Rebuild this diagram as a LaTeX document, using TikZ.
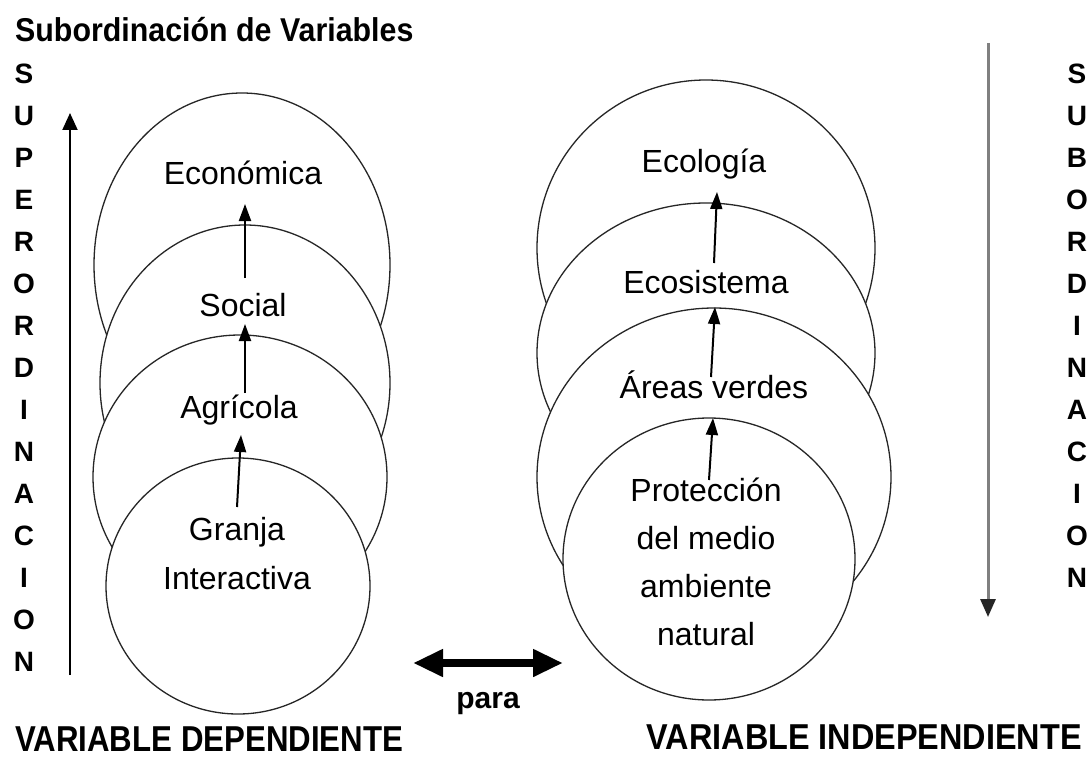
\documentclass[tikz,border=0pt]{standalone}
\usepackage{fontspec}
\setmainfont{Liberation Sans}
\usetikzlibrary{shapes.geometric,arrows.meta}
\begin{document}
\begin{tikzpicture}[x=1pt,y=-1pt,
  oval/.style={ellipse, draw=black!85, line width=1.3pt, fill=white, inner sep=0pt},
  lbl/.style={inner sep=0pt, font=\fontsize{32}{49}\selectfont, align=center, text=black},
  vlet/.style={inner sep=0pt, font=\bfseries\fontsize{28}{42}\selectfont, align=center, text=black},
  bold/.style={inner sep=0pt, font=\bfseries\fontsize{36}{36}\selectfont, text=black},
  arr/.style={line width=2pt, draw=black, -{Triangle[length=17pt,width=12pt]}},
  bigarr/.style={line width=2pt, draw=black, -{Triangle[length=17pt,width=15pt]}},
  grayarr/.style={line width=3pt, draw=black!50, -{Triangle[length=18pt,width=15pt,color=black!85]}},
  dblarr/.style={line width=8pt, draw=black, {Triangle[length=30pt,width=26pt]}-{Triangle[length=30pt,width=26pt]}}
]
\fill[white] (0,0) rectangle (1092,757);
\useasboundingbox (0,0) rectangle (1092,757);

% title
\node[bold, font=\bfseries\fontsize{33}{33}\selectfont, anchor=base west] (title) at (15,42) {\scalebox{0.92}[1]{Subordinación de Variables}};

% left stack of ellipses
\node[oval, minimum width=296pt, minimum height=344pt] (econE) at (242,265) {};
\node[oval, minimum width=290pt, minimum height=316pt] (socE) at (245,383) {};
\node[oval, minimum width=294pt, minimum height=284pt] (agriE) at (240,477) {};
\node[oval, minimum width=264pt, minimum height=256pt] (granE) at (238,586) {};

% right stack of ellipses
\node[oval, minimum width=338pt, minimum height=336pt] (ecolE) at (706,248) {};
\node[oval, minimum width=338pt, minimum height=300pt] (ecosE) at (706,353) {};
\node[oval, minimum width=354pt, minimum height=338pt] (areasE) at (714,477) {};
\node[oval, minimum width=292pt, minimum height=282pt] (protE) at (709,559) {};

% labels left (base anchor = baseline of last line)
\node[lbl, anchor=base] (econ) at (243,184.5) {Económica};
\node[lbl, anchor=base] (soc) at (243,316.5) {Social};
\node[lbl, anchor=base] (agri) at (239,418) {Agrícola};
\node[lbl, anchor=base] (gran) at (237,589) {Granja\\Interactiva};

% labels right
\node[lbl, anchor=base] (ecol) at (704,172) {Ecología};
\node[lbl, anchor=base] (ecos) at (706,293) {Ecosistema};
\node[lbl, anchor=base] (areas) at (714,398) {Áreas verdes};
\node[lbl, anchor=base, font=\fontsize{32}{48}\selectfont] (prot) at (706,645) {Protección\\del medio\\ambiente\\natural};

% inner arrows left
\draw[arr] ([xshift=0pt,yshift=82pt]gran.base) -- ([xshift=2pt,yshift=-17pt]agri.base);
\draw[arr] ([xshift=6pt,yshift=25pt]agri.base) -- ([xshift=2pt,yshift=-7.5pt]soc.base);
\draw[arr] ([xshift=2pt,yshift=38.5pt]soc.base) -- ([xshift=2pt,yshift=-19.5pt]econ.base);

% inner arrows right
\draw[arr] ([xshift=3pt,yshift=165pt]prot.base) -- ([xshift=-1pt,yshift=-20pt]areas.base);
\draw[arr] ([xshift=-3pt,yshift=21pt]areas.base) -- ([xshift=9pt,yshift=-14pt]ecos.base);
\draw[arr] ([xshift=8pt,yshift=30pt]ecos.base) -- ([xshift=13pt,yshift=-20pt]ecol.base);

% vertical words (base = baseline of the last letter)
\node[vlet, anchor=base] (sup) at (24,671) {S\\U\\P\\E\\R\\O\\R\\D\\I\\N\\A\\C\\I\\O\\N};
\node[vlet, anchor=base] (sub) at (1077,587) {S\\U\\B\\O\\R\\D\\I\\N\\A\\C\\I\\O\\N};

% big vertical arrows
\coordinate (supB) at (70,675);
\coordinate (supT) at (70,113);
\draw[bigarr] (supB) -- (supT);
\coordinate (subT) at (988,43);
\coordinate (subB) at (988,617);
\draw[grayarr] (subT) -- (subB);

% double arrow and "para"
\coordinate (dl) at (413,663);
\coordinate (dr) at (563,663);
\draw[dblarr] (dl) -- (dr);
\node[bold, font=\bfseries\fontsize{30}{30}\selectfont, anchor=base] (para) at (488,708) {para};

% bottom labels
\node[bold, anchor=base west] (vdep) at (15,751) {\scalebox{0.867}[1]{VARIABLE DEPENDIENTE}};
\node[bold, anchor=base east] (vind) at (1082,749) {\scalebox{0.9}[1]{VARIABLE INDEPENDIENTE}};
\end{tikzpicture}
\end{document}
